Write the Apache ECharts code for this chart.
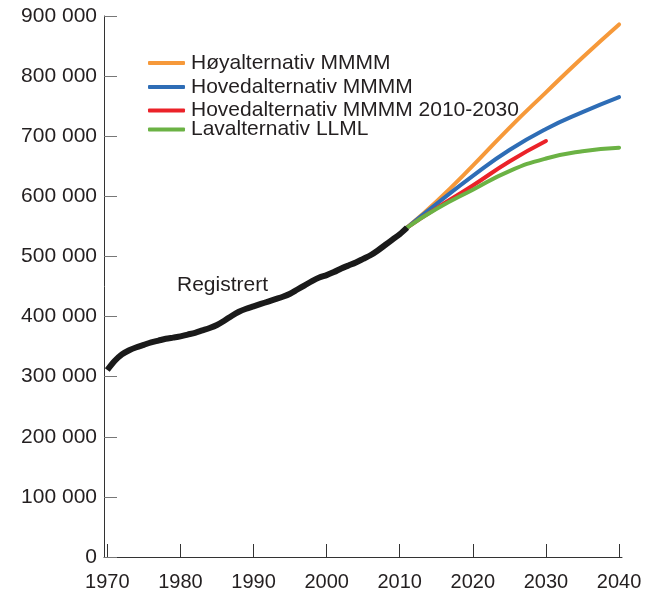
<!DOCTYPE html>
<html>
<head>
<meta charset="utf-8">
<script src="https://cdn.jsdelivr.net/npm/echarts@6/dist/echarts.min.js"></script>
<style>html,body{margin:0;padding:0;background:#fff}#c{width:654px;height:595px}</style>
</head>
<body>
<div id="c"></div>
<script>
// Registered population 1970-2011
const regYears = [1970,1971,1972,1973,1974,1975,1976,1977,1978,1979,1980,1981,1982,1983,1984,1985,1986,1987,1988,1989,1990,1991,1992,1993,1994,1995,1996,1997,1998,1999,2000,2001,2002,2003,2004,2005,2006,2007,2008,2009,2010,2011];
const regValues = [311000,326000,337000,344000,349000,353000,357000,360000,363000,365000,367000,370000,373000,377000,381000,386000,393000,401000,408000,413000,417000,421000,425000,429000,433000,438000,445000,452000,459000,465000,469000,474000,480000,485000,490000,496000,502000,510000,519000,528000,537000,548000];
// Projections
const projYears = [2011,2015,2020,2025,2030,2035,2040];
const highValues = [548000,591000,651000,714000,773000,831000,886000];
const mainValues = [548000,587000,634000,677000,712000,740000,765000];
const main2030Years = [2011,2015,2020,2025,2030];
const main2030Values = [548000,580000,618000,658000,692000];
const lowValues = [548000,579000,611000,642000,663000,675000,681000];
const xTicks = [1970,1980,1990,2000,2010,2020,2030,2040];
const seriesNames = ['Høyalternativ MMMM','Hovedalternativ MMMM','Hovedalternativ MMMM 2010-2030','Lavalternativ LLML'];
const colors = ['#F6993A','#2E6DB6','#EB2229','#6BB244'];

const zip = (xs, ys) => xs.map((x, i) => [x, ys[i]]);
const fmt = v => v === 0 ? '0' : String(v).replace(/\B(?=(\d{3})+(?!\d))/g, ' ');

const chart = echarts.init(document.getElementById('c'));
const textColor = '#231f20';
const font = 'Liberation Sans, Arial, sans-serif';
const legendTops = [52.5, 76.5, 100, 119];
chart.setOption({
  animation: false,
  grid: { left: 104, right: 32, top: 16, bottom: 38, containLabel: false },
  xAxis: {
    type: 'value', min: 1969.55, max: 2040.4,
    splitLine: { show: false },
    axisLine: { show: true, lineStyle: { color: '#333', width: 1 } },
    axisTick: { show: true, inside: true, length: 13, customValues: xTicks, lineStyle: { color: '#333', width: 1 } },
    axisLabel: { customValues: xTicks, fontSize: 20, color: textColor, margin: 15, fontFamily: font, formatter: v => String(v) }
  },
  yAxis: {
    type: 'value', min: 0, max: 900000, interval: 100000,
    splitLine: { show: false },
    axisLine: { show: true, lineStyle: { color: '#333', width: 1 } },
    axisTick: { show: true, inside: true, length: 13, lineStyle: { color: '#777', width: 1 } },
    axisLabel: { fontSize: 21, color: textColor, margin: 7, padding: [5, 0, 0, 0], fontFamily: font, formatter: fmt }
  },
  legend: seriesNames.map((n, i) => ({
    data: [n], left: 148, top: legendTops[i], padding: 0, orient: 'vertical',
    icon: 'roundRect', itemWidth: 37, itemHeight: 4,
    textStyle: { fontSize: 21, color: textColor, fontFamily: font, padding: [0,0,0,1] }
  })),
  graphic: [{
    type: 'text', left: 177, top: 275,
    style: { text: 'Registrert', fontSize: 21, fill: textColor, fontFamily: font }
  }],
  series: [
    { name: 'Registrert', type: 'line', data: zip(regYears, regValues), smooth: 0.3, symbol: 'none', lineStyle: { color: '#1a1a1a', width: 6 }, z: 5 },
    { name: seriesNames[0], type: 'line', data: zip(projYears, highValues), smooth: true, symbol: 'none', color: colors[0], lineStyle: { width: 4, cap: 'round' }, z: 3 },
    { name: seriesNames[1], type: 'line', data: zip(projYears, mainValues), smooth: true, symbol: 'none', color: colors[1], lineStyle: { width: 4, cap: 'round' }, z: 3 },
    { name: seriesNames[2], type: 'line', data: zip(main2030Years, main2030Values), smooth: true, symbol: 'none', color: colors[2], lineStyle: { width: 4, cap: 'round' }, z: 3 },
    { name: seriesNames[3], type: 'line', data: zip(projYears, lowValues), smooth: true, symbol: 'none', color: colors[3], lineStyle: { width: 4, cap: 'round' }, z: 4 }
  ]
});
</script>
</body>
</html>
